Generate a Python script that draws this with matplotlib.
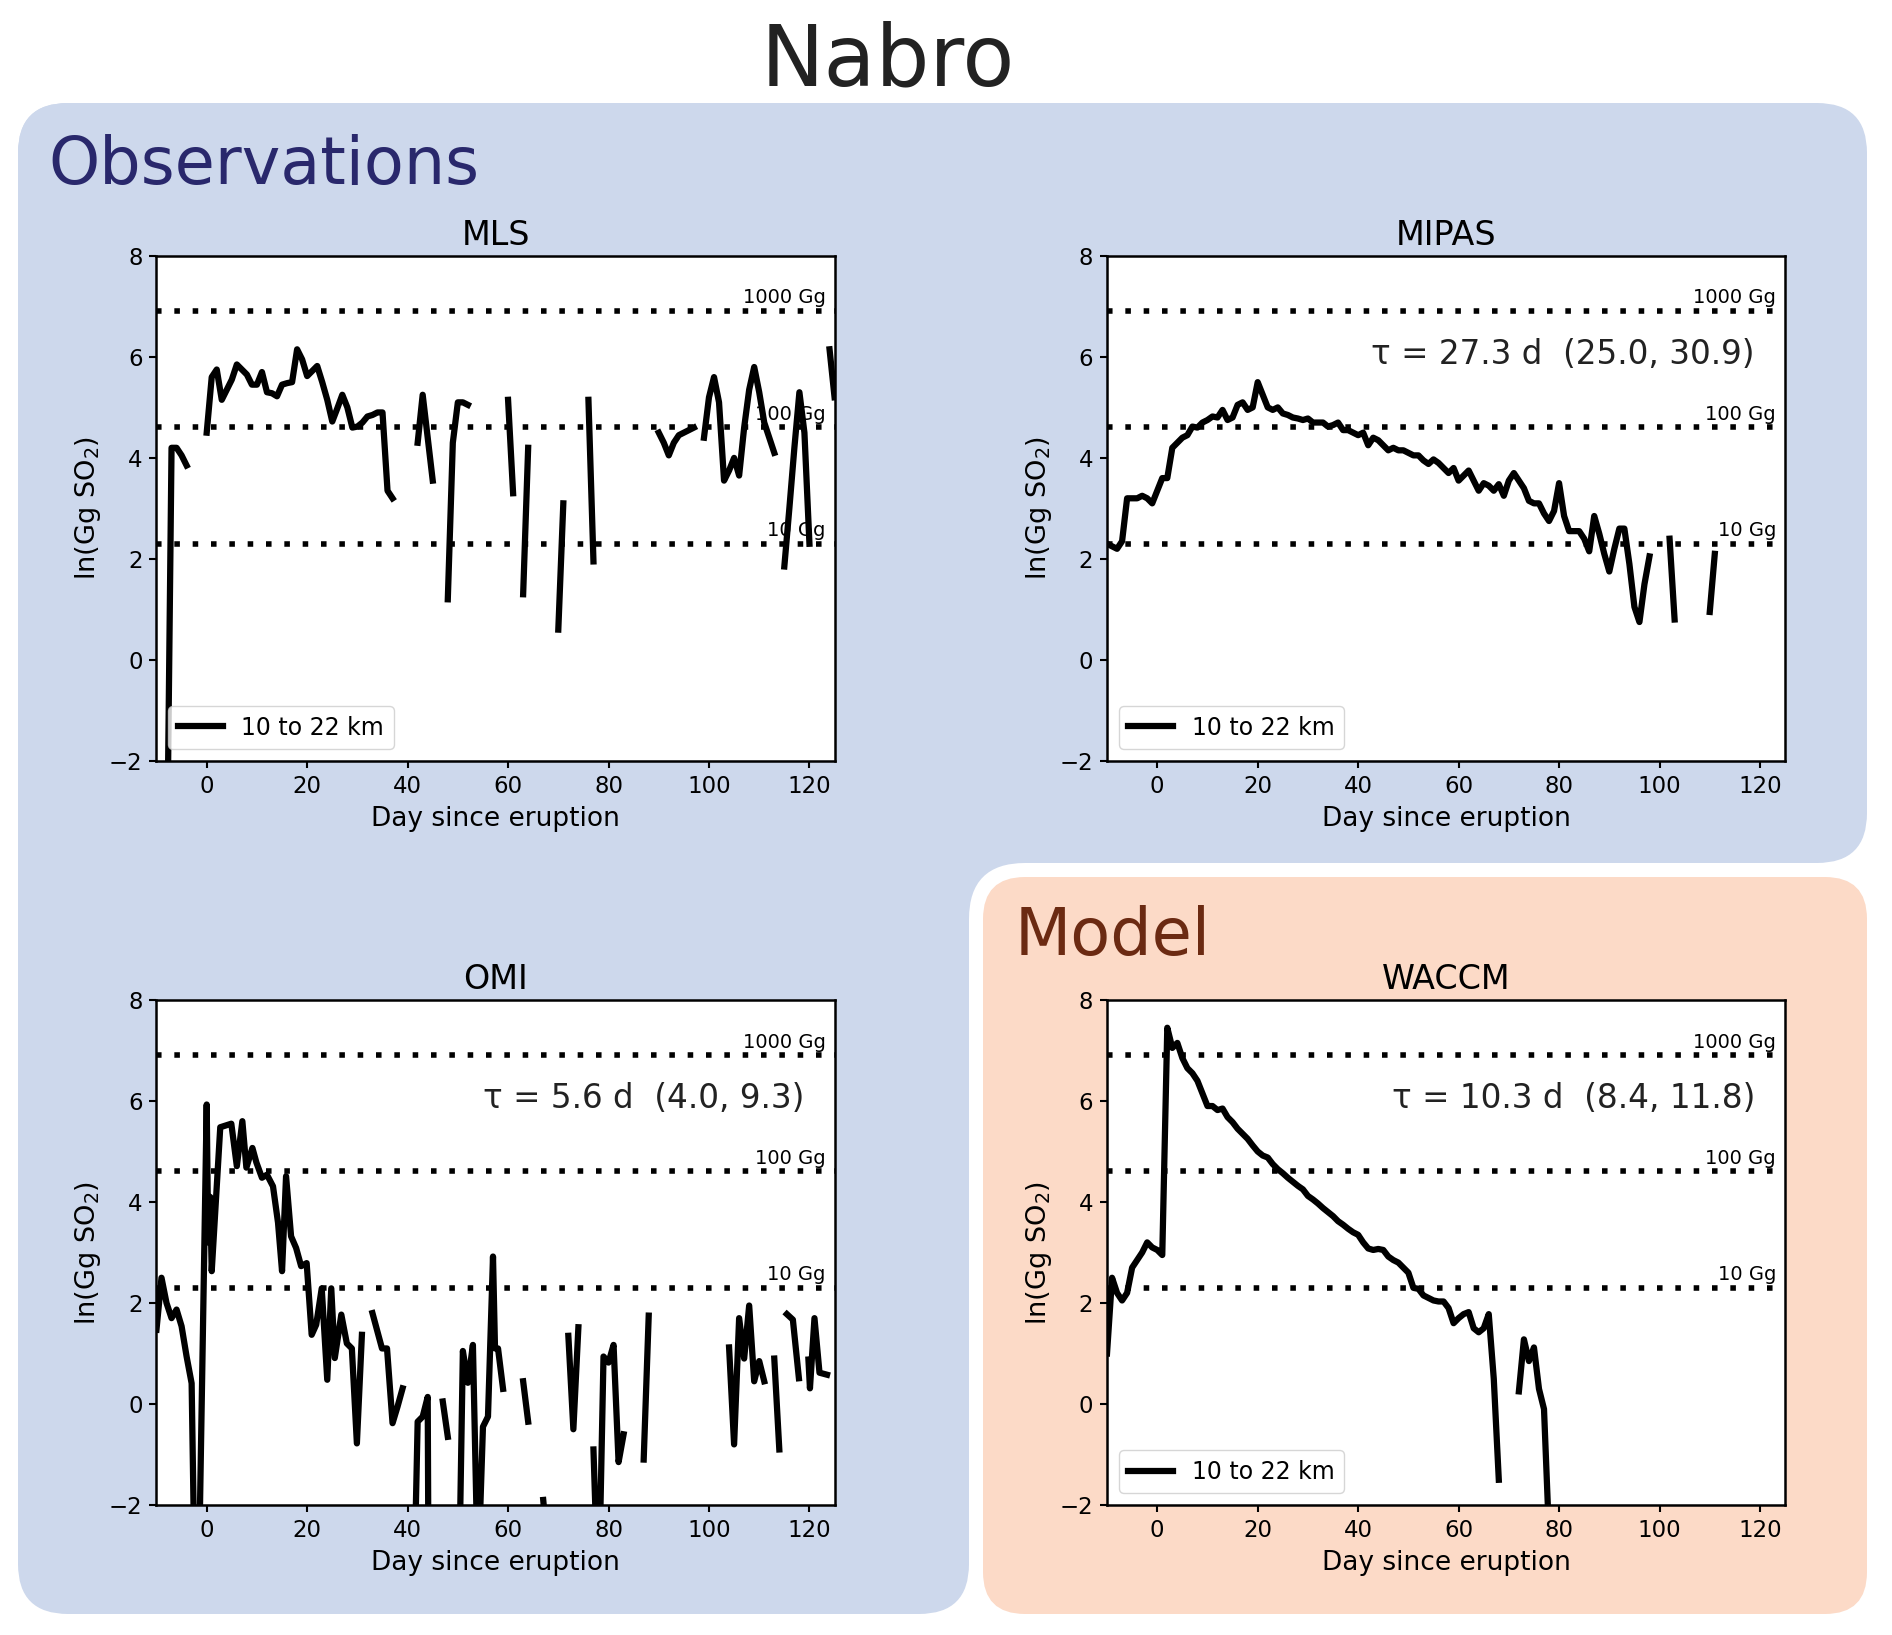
import matplotlib
matplotlib.use("Agg")
import matplotlib.pyplot as plt
import matplotlib.patches as mpatches
import numpy as np

nan = np.nan

# ln(Gg SO2) per day since eruption, 10 to 22 km
mls_day = [*range(-8, -3), -2, *range(0, 38), 39, *range(42, 46), 46,
           *range(48, 53), 55, 60, 61, 62, 63, 64, 66, 70, 71, 73, 76, 77, 80,
           *range(90, 98), 98, *range(99, 114), 114, *range(115, 121), 122, 124, 125]
mls_val = [-5, 4.2, 4.2, 4.05, 3.85, nan,
           4.5, 5.6, 5.75, 5.15, 5.35, 5.55, 5.85, 5.75, 5.65, 5.45,
           5.45, 5.7, 5.3, 5.28, 5.22, 5.45, 5.48, 5.5, 6.15, 5.95,
           5.62, 5.72, 5.82, 5.5, 5.15, 4.72, 4.98, 5.25, 5.0, 4.6,
           4.62, 4.7, 4.82, 4.85, 4.9, 4.9, 3.35, 3.2, nan,
           4.3, 5.25, 4.4, 3.55, nan,
           1.2, 4.3, 5.1, 5.1, 5.05, nan,
           5.15, 3.3, nan, 1.3, 4.2, nan, 0.6, 3.1, nan, 5.15, 1.95, nan,
           4.5, 4.3, 4.05, 4.3, 4.45, 4.5, 4.55, 4.6, nan,
           4.4, 5.2, 5.6, 5.1, 3.55, 3.75, 4.0, 3.65, 4.6, 5.35, 5.8, 5.3, 4.7, 4.4, 4.1, nan,
           1.85, 3.0, 4.2, 5.3, 4.5, 2.3, nan, 6.15, 5.2]

mipas_day = [*range(-10, 99), 100, 102, 103, 106, 110, 111]
mipas_val = [2.3, 2.25, 2.2, 2.35, 3.2, 3.2, 3.2, 3.25, 3.2, 3.1,
             3.35, 3.6, 3.6, 4.2, 4.3, 4.4, 4.45, 4.62, 4.6, 4.7,
             4.75, 4.82, 4.8, 4.95, 4.75, 4.8, 5.05, 5.1, 4.95, 5.0,
             5.5, 5.25, 5.0, 4.95, 5.0, 4.88, 4.85, 4.8, 4.78, 4.75,
             4.78, 4.7, 4.7, 4.7, 4.62, 4.65, 4.7, 4.55, 4.55, 4.5,
             4.45, 4.5, 4.25, 4.4, 4.35, 4.25, 4.15, 4.2, 4.15, 4.15,
             4.1, 4.05, 4.05, 3.95, 3.88, 3.97, 3.9, 3.8, 3.7, 3.8,
             3.55, 3.65, 3.75, 3.55, 3.35, 3.5, 3.45, 3.35, 3.48, 3.25,
             3.55, 3.7, 3.55, 3.4, 3.15, 3.1, 3.1, 2.9, 2.75, 2.95,
             3.5, 2.85, 2.55, 2.55, 2.55, 2.4, 2.15, 2.85, 2.5, 2.1,
             1.75, 2.2, 2.6, 2.6, 1.9, 1.05, 0.75, 1.5, 2.05,
             nan, 2.4, 0.8, nan, 0.95, 2.1]

omi_day = [-10, -9, -8, -7, -6, -5, -4, -3, -2,
           0, 0.3, 0.7, 1, 2.7, 4.9, 6, 7.1, 7.9, 9.1, 9.9, 11, 12, 13.2, 14.2, 15,
           15.8, 16.8, 17.8, 18.8, 19.9, 20.9, 21.8, 22.9, 24, 24.8, 25.5, 26.8,
           27.9, 28.9, 29.9, 30.9, 32,
           33, 34.9, 35.9, 37, 38, 39, 40,
           41, 42, 43, 44, 44.1, 45,
           47, 48, 49,
           50, 51, 52, 53, 54, 55, 56, 57, 57.4, 58, 59, 61,
           63, 64, 65, 67, 68, 70,
           72, 73, 74, 75,
           77, 78, 79, 80, 81, 82, 83, 85,
           87, 88, 95,
           104, 105, 106, 107, 108, 109, 110, 111, 112,
           113, 114, 115,
           115.5, 116.7, 117.9, 119,
           119.8, 120.1, 121, 122, 123.5]
omi_val = [1.47, 2.5, 2.0, 1.7, 1.87, 1.54, 0.94, 0.41, -6.0,
           5.93, 3.2, 4.1, 2.63, 5.48, 5.55, 4.71, 5.6, 4.68, 5.07, 4.78, 4.48, 4.54, 4.31, 3.59, 2.63,
           4.51, 3.32, 3.09, 2.73, 2.79, 1.37, 1.57, 2.29, 0.48, 2.29, 0.91, 1.77,
           1.2, 1.1, -0.78, 1.37, nan,
           1.8, 1.1, 1.1, -0.38, -0.05, 0.31, nan,
           -5.0, -0.35, -0.25, 0.14, -2.1, nan,
           0.05, -0.65, nan,
           -5.0, 1.05, 0.42, 1.17, -3.5, -0.45, -0.25, 2.92, 1.1, 1.1, 0.3, nan,
           0.45, -0.35, nan, -1.9, -3.0, nan,
           1.35, -0.5, 1.52, nan,
           -0.9, -4.0, 0.94, 0.82, 1.17, -1.15, -0.6, nan,
           -1.1, 1.75, nan,
           1.12, -0.8, 1.7, 0.9, 1.95, 0.45, 0.85, 0.45, nan,
           0.9, -0.9, nan,
           1.78, 1.67, 0.51, nan,
           0.88, 0.31, 1.7, 0.62, 0.58]

waccm_day = [*range(-10, 69), 70, *range(72, 79)]
waccm_val = [1.0, 2.5, 2.2, 2.05, 2.2, 2.7, 2.85, 3.0, 3.2, 3.1,
             3.05, 2.95, 7.45, 7.05, 7.15, 6.85, 6.65, 6.55, 6.4, 6.15,
             5.9, 5.9, 5.82, 5.85, 5.68, 5.58, 5.45, 5.35, 5.25, 5.12,
             5.0, 4.92, 4.88, 4.75, 4.65, 4.57, 4.48, 4.4, 4.32, 4.25,
             4.12, 4.05, 3.97, 3.88, 3.8, 3.72, 3.62, 3.55, 3.47, 3.4,
             3.35, 3.2, 3.08, 3.05, 3.07, 3.05, 2.92, 2.85, 2.8, 2.7,
             2.6, 2.3, 2.28, 2.15, 2.1, 2.05, 2.03, 2.03, 1.9, 1.6,
             1.7, 1.78, 1.82, 1.5, 1.42, 1.5, 1.78, 0.5, -1.5,
             nan, 0.25, 1.28, 0.85, 1.12, 0.3, -0.1, -2.6]

thresh_gg = [1000, 100, 10]
thresh_labels = ["1000 Gg", "100 Gg", "10 Gg"]
tau_texts = {"MIPAS": "27.3 d  (25.0, 30.9)",
             "OMI": "5.6 d  (4.0, 9.3)",
             "WACCM": "10.3 d  (8.4, 11.8)"}

W, H = 1892, 1635
fig = plt.figure(figsize=(W / 100, H / 100), dpi=100)

# background boxes, drawn in pixel coordinates
bg = fig.add_axes([0, 0, 1, 1], zorder=-10)
bg.set_xlim(0, W)
bg.set_ylim(H, 0)
bg.axis("off")
blue = "#cdd8ec"
peach = "#fcdac7"


def rbox(x0, y0, x1, y1, r, color):
    bg.add_patch(mpatches.FancyBboxPatch((x0, y0), x1 - x0, y1 - y0,
                                         boxstyle=f"round,pad=0,rounding_size={r}",
                                         fc=color, ec="none"))


rbox(18, 103, 1867, 863, 50, blue)
rbox(18, 103, 969, 1614, 50, blue)
bg.add_patch(mpatches.Rectangle((969, 863), 60, 60, fc=blue, ec="none"))
rbox(969, 863, 1867, 1614, 56, "white")
rbox(983, 877, 1867, 1614, 42, peach)

bg.text(888, 85, "Nabro", fontsize=61, ha="center", va="baseline", color="#222222")
bg.text(48, 184, "Observations", fontsize=47, ha="left", va="baseline", color="#29286c")
bg.text(1015, 955, "Model", fontsize=47, ha="left", va="baseline", color="#6b2a12")

axw, axh = 0.3584, 0.3089
positions = {"MLS": [0.0827, 0.5346], "MIPAS": [0.5851, 0.5346],
             "OMI": [0.0827, 0.0795], "WACCM": [0.5851, 0.0795]}
series = {"MLS": (mls_day, mls_val), "MIPAS": (mipas_day, mipas_val),
          "OMI": (omi_day, omi_val), "WACCM": (waccm_day, waccm_val)}

for name, (day, val) in series.items():
    x0, y0 = positions[name]
    ax = fig.add_axes([x0, y0, axw, axh])
    ax.plot(day, val, color="k", lw=4.5, label="10 to 22 km")
    for g, lab in zip(thresh_gg, thresh_labels):
        ax.axhline(np.log(g), color="k", lw=4, ls=(0, (1, 2.3)))
        ax.text(123.2, np.log(g) + 0.15, lab, ha="right", va="baseline", fontsize=14)
    if name in tau_texts:
        ax.text(119, 6.04, "\u03c4 = " + tau_texts[name], ha="right", va="center",
                fontsize=23.5, color="#222222")
    if name != "OMI":
        ax.legend(loc="lower left", fontsize=17, handlelength=1.9)
    ax.set_xlim(-10, 125)
    ax.set_ylim(-2, 8)
    ax.set_xticks([0, 20, 40, 60, 80, 100, 120])
    ax.set_yticks([-2, 0, 2, 4, 6, 8])
    ax.tick_params(labelsize=16.5, width=1.5, length=5, pad=5)
    for s in ax.spines.values():
        s.set_linewidth(1.8)
    ax.set_title(name, fontsize=24, pad=8)
    ax.set_xlabel("Day since eruption", fontsize=19, labelpad=6)
    ax.set_ylabel(r"ln(Gg SO$_2$)", fontsize=19.5)

fig.savefig("out.png", dpi=100)
